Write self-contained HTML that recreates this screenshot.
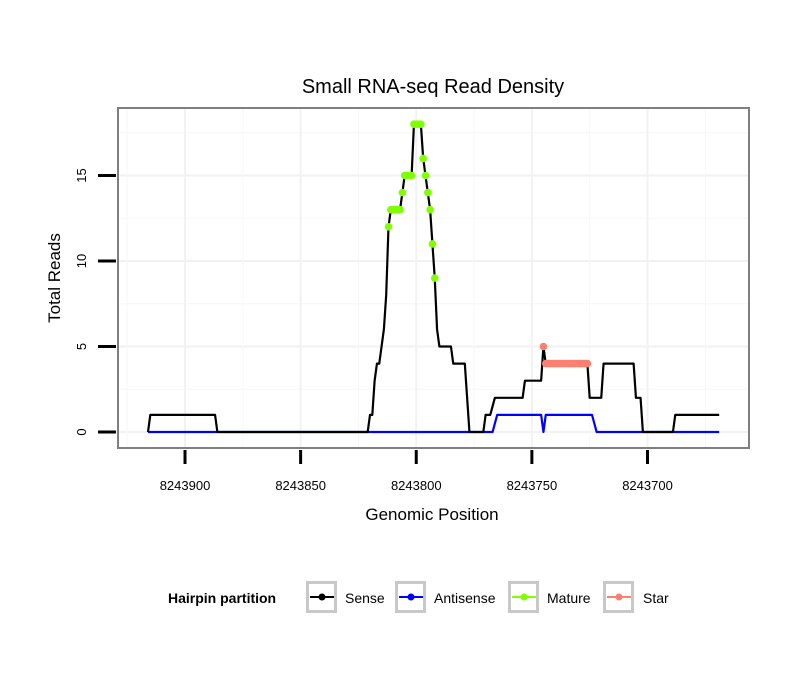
<!DOCTYPE html>
<html><head><meta charset="utf-8"><style>
body{margin:0;background:#fff;font-family:"Liberation Sans",sans-serif}
svg text{font-family:"Liberation Sans",sans-serif}
</style></head><body>
<svg id="c" width="810" height="690">
<text x="433" y="93" font-size="20" text-anchor="middle">Small RNA-seq Read Density</text>
<g id="grid"></g>
<g id="marks"></g>
<rect x="118" y="108" width="631" height="340" fill="none" stroke="#7f7f7f" stroke-width="2"/>
<g id="axes"></g>
<text x="432" y="520" font-size="17" text-anchor="middle">Genomic Position</text>
<text transform="translate(60,278) rotate(-90)" font-size="17" text-anchor="middle">Total Reads</text>
<g>
<text x="168" y="603" font-size="14" font-weight="bold">Hairpin partition</text>
<g id="leg"></g>
</g>
</svg>
<script>
const xTicks=[8243900,8243850,8243800,8243750,8243700];
const yTicks=[0,5,10,15];
const sensePos=[8243916,8243915,8243887,8243886,8243821,8243820,8243819,8243818,8243817,8243816,8243815,8243814,8243813,8243812,8243811,8243807,8243806,8243805,8243802,8243801,8243798,8243797,8243796,8243795,8243794,8243793,8243792,8243791,8243790,8243785,8243784,8243779,8243777,8243771,8243770,8243768,8243766,8243754,8243753,8243746,8243745,8243744,8243726,8243725,8243720,8243719,8243706,8243705,8243703,8243702,8243689,8243688,8243669];
const senseVal=[0,1,1,0,0,1,1,3,4,4,5,6,8,12,13,13,14,15,15,18,18,16,15,14,13,11,9,6,5,5,4,4,0,0,1,1,2,2,3,3,5,4,4,2,2,4,4,2,2,0,0,1,1];
const antiPos=[8243916,8243767,8243765,8243746,8243745,8243744,8243724,8243722,8243669];
const antiVal=[0,0,1,1,0,1,1,0,0];
const maturePos=[8243812,8243811,8243810,8243809,8243808,8243807,8243806,8243805,8243804,8243803,8243802,8243801,8243800,8243799,8243798,8243797,8243796,8243795,8243794,8243793,8243792];
const matureVal=[12,13,13,13,13,13,14,15,15,15,15,18,18,18,18,16,15,14,13,11,9];
const starPos=[8243745,8243744,8243743,8243742,8243741,8243740,8243739,8243738,8243737,8243736,8243735,8243734,8243733,8243732,8243731,8243730,8243729,8243728,8243727,8243726];
const starVal=[5,4,4,4,4,4,4,4,4,4,4,4,4,4,4,4,4,4,4,4];
const legLabels=["Sense","Antisense","Mature","Star"];
const legColors=["#000","#00f","#7fff00","#fa8072"];
const NS="http://www.w3.org/2000/svg";
const X=p=>185+(8243900-p)*2.3125;
const Y=v=>432-v*17.1;
function mk(t,a,parent){const e=document.createElementNS(NS,t);for(const k in a)e.setAttribute(k,a[k]);document.getElementById(parent).appendChild(e);return e;}
for(let v=0;v<=17.5;v+=2.5){const e=mk('line',{x1:118,x2:749,y1:Y(v),y2:Y(v),stroke:v%5?'#f7f7f7':'#f2f2f2','stroke-width':v%5?1:2},'grid');

}
for(let p=8243925;p>=8243650;p-=25){const x=X(p);if(x<118||x>749)continue;const e=mk('line',{x1:x,x2:x,y1:108,y2:448,stroke:p%50?'#f7f7f7':'#f2f2f2','stroke-width':p%50?1:2},'grid');

}
xTicks.forEach(p=>{const t=mk('line',{x1:X(p),x2:X(p),y1:450,y2:464,stroke:'#000','stroke-width':3},'axes');


const l=mk('text',{x:X(p),y:490,'font-size':13,'text-anchor':'middle'},'axes');l.textContent=p;

});
yTicks.forEach(v=>{const t=mk('line',{x1:98,x2:116,y1:Y(v),y2:Y(v),stroke:'#000','stroke-width':3},'axes');


const l=mk('text',{transform:`translate(86,${Y(v)}) rotate(-90)`,'font-size':13,'text-anchor':'middle'},'axes');l.textContent=v;

});
function line(ps,vs,col,name){const e=mk('polyline',{points:ps.map((p,i)=>X(p)+','+Y(vs[i])).join(' '),fill:'none',stroke:col,'stroke-width':2.2,'stroke-linejoin':'round'},'marks');

}
line(antiPos,antiVal,'#00f','antisense-line');
line(sensePos,senseVal,'#000','sense-line');
function pts(ps,vs,col,name){ps.forEach((p,i)=>{const c=mk('circle',{cx:X(p),cy:Y(vs[i]),r:3.8,fill:col},'marks');

});}
pts(starPos,starVal,'#fa8072','star-point');
pts(maturePos,matureVal,'#7fff00','mature-point');
const bx=[306,395,508,603],tx=[345,434,547,643];
legLabels.forEach((s,i)=>{const r=mk('rect',{x:bx[i]+1.5,y:582.5,width:28,height:29,fill:'#fff',stroke:'#c8c8c8','stroke-width':3},'leg');


mk('line',{x1:bx[i]+4,x2:bx[i]+28,y1:597,y2:597,stroke:legColors[i],'stroke-width':2},'leg');
mk('circle',{cx:bx[i]+16,cy:597,r:3.5,fill:legColors[i]},'leg');
const t=mk('text',{x:tx[i],y:603,'font-size':14},'leg');t.textContent=s;

});
</script>
</body></html>
